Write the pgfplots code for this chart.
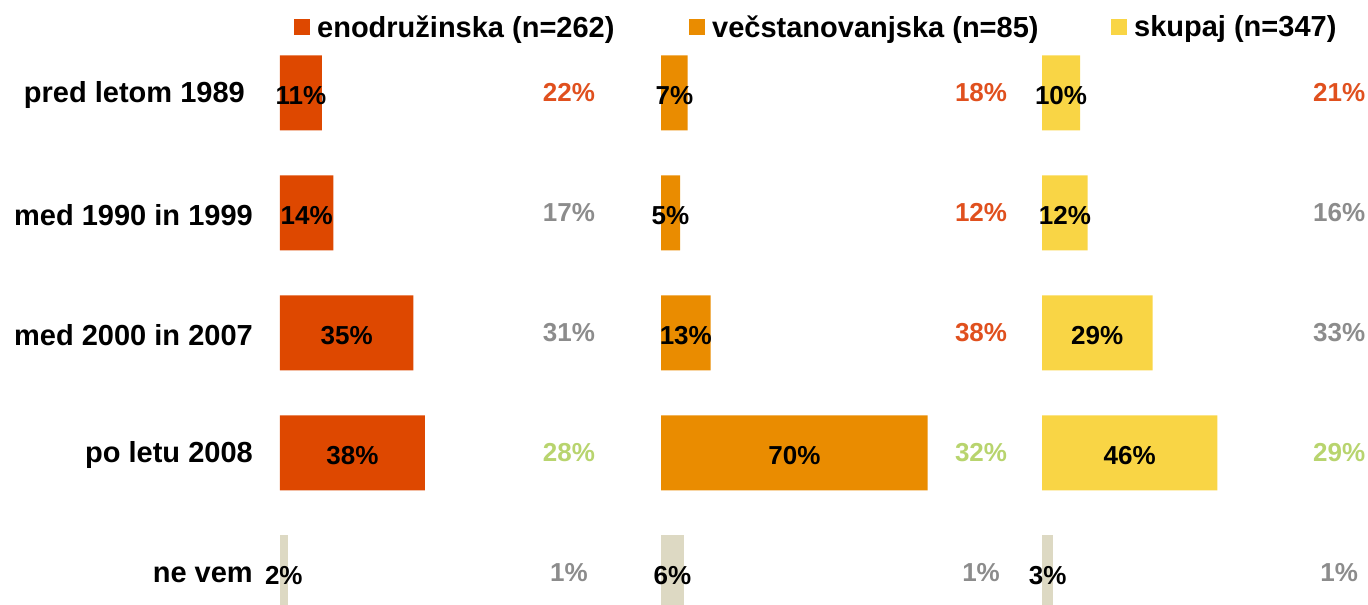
\documentclass[border=0pt]{standalone}
\usepackage{pgfplots}
\pgfplotsset{compat=1.18}
\usepackage{fontspec}
\setmainfont{Liberation Sans}
\definecolor{cEno}{RGB}{222,72,0}
\definecolor{cVec}{RGB}{234,140,0}
\definecolor{cSku}{RGB}{249,213,69}
\definecolor{cTan}{RGB}{221,217,195}
\definecolor{tRed}{RGB}{224,80,30}
\definecolor{tGray}{RGB}{140,140,140}
\definecolor{tGreen}{RGB}{184,212,110}
\newcommand{\lblfont}{\fontsize{29}{34}\selectfont\bfseries}
\newcommand{\pctfont}{\fontsize{26}{30}\selectfont\bfseries}
\pgfplotsset{
  panel/.style={
    xbar, bar width=75pt, bar shift=0pt,
    scale only axis, width=381pt, height=605pt,
    xmin=0, xmax=100, ymin=-0.775, ymax=4.267, y dir=reverse,
    axis line style={draw=none}, xtick=\empty, ytick=\empty,
    major tick length=0pt,
    anchor=south west, clip=false,
    /pgf/number format/assume math mode=true,
    point meta=x,
    nodes near coords={\pgfmathprintnumber{\pgfplotspointmeta}\%},
    visualization depends on={rawx \as \rawx},
    every node near coord/.append style={anchor=center, inner sep=0pt, font=\pctfont, text=black,
      shift={(axis direction cs:-\rawx/2,0)}, yshift=-3pt},
    legend style={draw=none, fill=none, font=\lblfont, anchor=west, inner sep=0pt,
      column sep=7pt, nodes={inner sep=0pt}},
    legend image code/.code={\fill[##1] (0pt,-8pt) rectangle (16pt,8pt);},
  }
}
\begin{document}
\begin{tikzpicture}
\useasboundingbox (0,0) rectangle (1368pt,605pt);
% Panel 1
\begin{axis}[panel, at={(280pt,0pt)},
  ytick={0,1,2,3,4},
  yticklabels={pred letom 1989\rule{8pt}{0pt}, med 1990 in 1999, med 2000 in 2007, po letu 2008, ne vem},
  yticklabel style={font=\lblfont, anchor=east, inner sep=0pt, xshift=-27pt, yshift=-2pt},
  legend style={at={(0.0367,0.955)}}]
\addplot[fill=cEno, draw=none] coordinates {(11,0) (14,1) (35,2) (38,3)};
\addlegendentry{enodružinska (n=262)}
\addplot[fill=cTan, draw=none, forget plot] coordinates {(2,4)};
\node[font=\pctfont, text=tRed]   at (axis cs:75.85,0) {22\%};
\node[font=\pctfont, text=tGray]  at (axis cs:75.85,1) {17\%};
\node[font=\pctfont, text=tGray]  at (axis cs:75.85,2) {31\%};
\node[font=\pctfont, text=tGreen] at (axis cs:75.85,3) {28\%};
\node[font=\pctfont, text=tGray]  at (axis cs:75.85,4) {1\%};
\end{axis}
% Panel 2
\begin{axis}[panel, at={(661pt,0pt)}, legend style={at={(0.0735,0.955)}}]
\addplot[fill=cVec, draw=none] coordinates {(7,0) (5,1) (13,2) (70,3)};
\addlegendentry{večstanovanjska (n=85)}
\addplot[fill=cTan, draw=none, forget plot] coordinates {(6,4)};
\node[font=\pctfont, text=tRed]   at (axis cs:84,0) {18\%};
\node[font=\pctfont, text=tRed]   at (axis cs:84,1) {12\%};
\node[font=\pctfont, text=tRed]   at (axis cs:84,2) {38\%};
\node[font=\pctfont, text=tGreen] at (axis cs:84,3) {32\%};
\node[font=\pctfont, text=tGray]  at (axis cs:84,4) {1\%};
\end{axis}
% Panel 3
\begin{axis}[panel, at={(1042pt,0pt)}, legend style={at={(0.181,0.955)}}]
\addplot[fill=cSku, draw=none] coordinates {(10,0) (12,1) (29,2) (46,3)};
\addlegendentry{skupaj (n=347)}
\addplot[fill=cTan, draw=none, forget plot] coordinates {(3,4)};
\node[font=\pctfont, text=tRed]   at (axis cs:78,0) {21\%};
\node[font=\pctfont, text=tGray]  at (axis cs:78,1) {16\%};
\node[font=\pctfont, text=tGray]  at (axis cs:78,2) {33\%};
\node[font=\pctfont, text=tGreen] at (axis cs:78,3) {29\%};
\node[font=\pctfont, text=tGray]  at (axis cs:78,4) {1\%};
\end{axis}
\end{tikzpicture}
\end{document}
